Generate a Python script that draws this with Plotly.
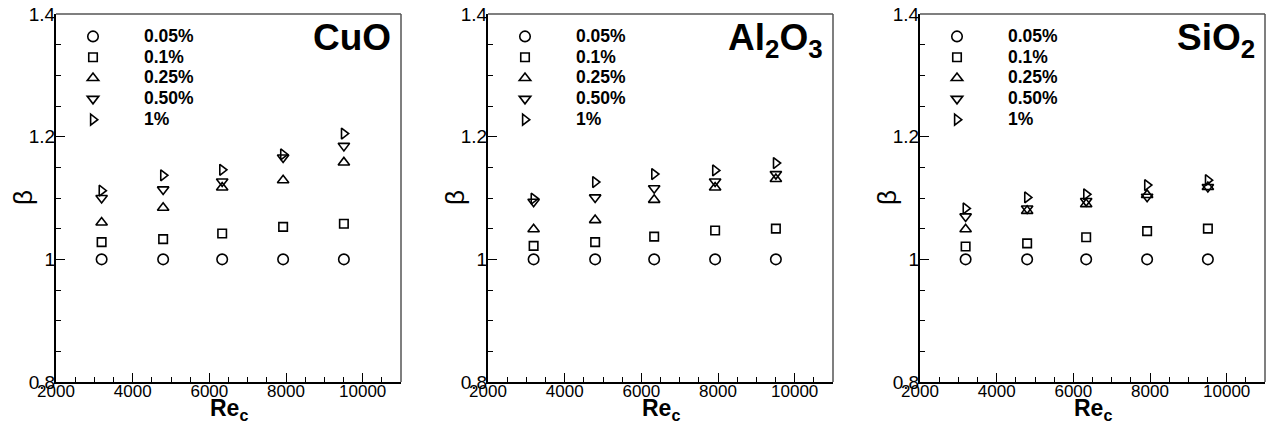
import plotly.graph_objects as go

re_c = [3190, 4795, 6335, 7925, 9510]
labels = ["0.05%", "0.1%", "0.25%", "0.50%", "1%"]
symbols = ["circle-open", "square-open", "triangle-up-open", "triangle-down-open", "triangle-right-open"]
sizes = [10.5, 8.5, 10, 10, 9.5]

cuo = [
    [1.000, 1.000, 1.000, 1.000, 1.000],
    [1.028, 1.033, 1.042, 1.053, 1.058],
    [1.060, 1.084, 1.117, 1.129, 1.158],
    [1.100, 1.114, 1.127, 1.166, 1.185],
    [1.112, 1.137, 1.146, 1.171, 1.205],
]
al2o3 = [
    [1.000, 1.000, 1.000, 1.000, 1.000],
    [1.022, 1.028, 1.037, 1.047, 1.050],
    [1.049, 1.064, 1.097, 1.117, 1.131],
    [1.094, 1.101, 1.116, 1.127, 1.139],
    [1.099, 1.126, 1.139, 1.145, 1.157],
]
sio2 = [
    [1.000, 1.000, 1.000, 1.000, 1.000],
    [1.021, 1.026, 1.036, 1.046, 1.050],
    [1.049, 1.079, 1.090, 1.105, 1.118],
    [1.070, 1.083, 1.095, 1.102, 1.118],
    [1.083, 1.101, 1.106, 1.121, 1.129],
]
panels = [("CuO", cuo), ("Al<sub>2</sub>O<sub>3</sub>", al2o3), ("SiO<sub>2</sub>", sio2)]

W, H = 1280, 432
lefts = [56, 488, 920]
pw = 345
top, bottom = 14, 382
ph = bottom - top

FONT = "Liberation Sans, Arial, sans-serif"
fig = go.Figure()

for i, (name, data) in enumerate(panels):
    ax = "" if i == 0 else str(i + 1)
    leg = "legend" if i == 0 else f"legend{i + 1}"
    for k in range(5):
        fig.add_trace(go.Scatter(
            x=re_c, y=data[k], mode="markers",
            name=f"<span style='font-size:17.5px'>{labels[k]}</span>",
            xaxis="x" + ax, yaxis="y" + ax, legend=leg,
            marker=dict(symbol=symbols[k], size=sizes[k], color="black",
                        line=dict(color="black", width=1.6)),
        ))
    d0 = lefts[i] / W
    d1 = (lefts[i] + pw) / W
    xa = dict(domain=[d0, d1], range=[2000, 11000], dtick=2000, tick0=2000, tickformat="d",
              ticks="inside", ticklen=9, tickwidth=1.3, tickcolor="black",
              minor=dict(dtick=500, ticks="inside", ticklen=5, tickwidth=1, tickcolor="black"),
              showline=True, linecolor="black", linewidth=2, showgrid=False, zeroline=False,
              tickfont=dict(family=FONT, size=17, color="black"), ticklabelstandoff=-7,
              automargin=False, anchor="y" + ax)
    ya = dict(domain=[0, 1], range=[0.8, 1.4], dtick=0.2, tick0=0.8,
              ticks="inside", ticklen=9, tickwidth=1.3, tickcolor="black",
              minor=dict(dtick=0.05, ticks="inside", ticklen=5, tickwidth=1, tickcolor="black"),
              showline=True, linecolor="black", linewidth=2, showgrid=False, zeroline=False,
              tickfont=dict(family=FONT, size=19, color="black"), ticklabelstandoff=-5,
              automargin=False, anchor="x" + ax)
    fig.update_layout(**{"xaxis" + ax: xa, "yaxis" + ax: ya})
    fig.update_layout(**{leg: dict(
        x=(lefts[i] - 14) / W, xanchor="left", y=1 - 7 / ph, yanchor="top",
        bgcolor="rgba(0,0,0,0)", borderwidth=0, itemwidth=92,
        font=dict(family=FONT, size=13.7, color="black", weight="bold"),
        tracegroupgap=0, itemclick=False)})
    # top and right border
    fig.add_shape(type="line", xref=f"x{ax} domain", yref=f"y{ax} domain",
                  x0=0, x1=1, y0=1, y1=1, line=dict(color="#555", width=1.5))
    fig.add_shape(type="line", xref=f"x{ax} domain", yref=f"y{ax} domain",
                  x0=1, x1=1, y0=0, y1=1, line=dict(color="#555", width=1.5))
    fig.add_annotation(text=f"<b>{name}</b>", xref=f"x{ax} domain", yref=f"y{ax} domain",
                       x=0.978, y=0.997, xanchor="right", yanchor="top", showarrow=False,
                       font=dict(family=FONT, size=37, color="black"))
    fig.add_annotation(text="β", xref=f"x{ax} domain", yref=f"y{ax} domain",
                       x=-33 / pw, y=0.5, xanchor="center", yanchor="middle", showarrow=False,
                       textangle=-90, font=dict(family=FONT, size=26, color="black"))
    fig.add_annotation(text="<b>Re<sub>c</sub></b>", xref=f"x{ax} domain", yref=f"y{ax} domain",
                       x=0.5, y=-27 / ph, xanchor="center", yanchor="middle", showarrow=False,
                       font=dict(family=FONT, size=23, color="black"))

fig.update_layout(width=W, height=H, margin=dict(l=0, r=0, t=top, b=H - bottom, autoexpand=False),
                  plot_bgcolor="white", paper_bgcolor="white", showlegend=True)
fig.write_html("out.html")
